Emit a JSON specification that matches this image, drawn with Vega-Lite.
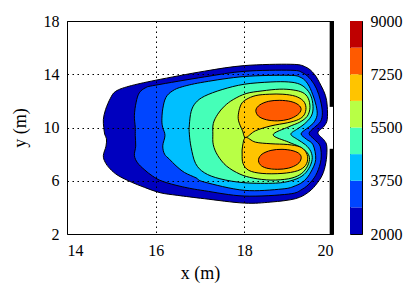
{
  "$schema": "https://vega.github.io/schema/vega-lite/v6.json",
  "background": "white",
  "padding": {"left": 10, "top": 12, "right": 5, "bottom": 5},
  "spacing": 17,
  "bounds": "flush",
  "config": {
    "view": {"stroke": "black", "strokeWidth": 1},
    "axis": {
      "labelFont": "Liberation Serif", "labelFontSize": 16, "labelColor": "black",
      "titleFont": "Liberation Serif", "titleFontSize": 18, "titleFontWeight": "normal", "titleColor": "black",
      "domain": false, "ticks": false,
      "gridColor": "black", "gridDash": [1.5, 3.5], "gridOpacity": 1, "gridWidth": 1
    }
  },
  "datasets": {
    "contours": [
      {"lev":1,"part":"a","o":1,"x":14.85,"y":9.5},{"lev":1,"part":"a","o":2,"x":14.83,"y":10.0},{"lev":1,"part":"a","o":3,"x":14.82,"y":10.6},{"lev":1,"part":"a","o":4,"x":14.87,"y":11.35},{"lev":1,"part":"a","o":5,"x":14.98,"y":12.2},{"lev":1,"part":"a","o":6,"x":15.1,"y":12.72},{"lev":1,"part":"a","o":7,"x":15.4,"y":13.1},{"lev":1,"part":"a","o":8,"x":16.0,"y":13.55},{"lev":1,"part":"a","o":9,"x":17.1,"y":14.23},{"lev":1,"part":"a","o":10,"x":18.0,"y":14.65},{"lev":1,"part":"a","o":11,"x":19.05,"y":14.75},{"lev":1,"part":"a","o":12,"x":19.38,"y":14.55},{"lev":1,"part":"a","o":13,"x":19.58,"y":14.0},{"lev":1,"part":"a","o":14,"x":19.73,"y":13.15},{"lev":1,"part":"a","o":15,"x":19.83,"y":12.4},{"lev":1,"part":"a","o":16,"x":19.87,"y":11.6},{"lev":1,"part":"a","o":17,"x":19.87,"y":10.6},{"lev":1,"part":"a","o":18,"x":19.8,"y":10.1},{"lev":1,"part":"a","o":19,"x":19.66,"y":9.6},{"lev":1,"part":"a","o":20,"x":19.8,"y":9.05},{"lev":1,"part":"a","o":21,"x":19.86,"y":8.6},{"lev":1,"part":"a","o":22,"x":19.85,"y":7.6},{"lev":1,"part":"a","o":23,"x":19.78,"y":6.6},{"lev":1,"part":"a","o":24,"x":19.65,"y":5.85},{"lev":1,"part":"a","o":25,"x":19.45,"y":5.15},{"lev":1,"part":"a","o":26,"x":19.15,"y":4.65},{"lev":1,"part":"a","o":27,"x":18.6,"y":4.4},{"lev":1,"part":"a","o":28,"x":18.0,"y":4.32},{"lev":1,"part":"a","o":29,"x":17.1,"y":4.65},{"lev":1,"part":"a","o":30,"x":16.5,"y":4.9},{"lev":1,"part":"a","o":31,"x":16.1,"y":5.1},{"lev":1,"part":"a","o":32,"x":15.75,"y":5.5},{"lev":1,"part":"a","o":33,"x":15.45,"y":5.9},{"lev":1,"part":"a","o":34,"x":15.15,"y":6.4},{"lev":1,"part":"a","o":35,"x":14.97,"y":6.9},{"lev":1,"part":"a","o":36,"x":14.86,"y":7.4},{"lev":1,"part":"a","o":37,"x":14.82,"y":7.9},{"lev":1,"part":"a","o":38,"x":14.88,"y":8.6},{"lev":1,"part":"a","o":39,"x":14.89,"y":9.15},

      {"lev":2,"part":"a","o":1,"x":15.54,"y":9.4},{"lev":2,"part":"a","o":2,"x":15.54,"y":10.0},{"lev":2,"part":"a","o":3,"x":15.52,"y":10.9},{"lev":2,"part":"a","o":4,"x":15.56,"y":11.9},{"lev":2,"part":"a","o":5,"x":15.63,"y":12.6},{"lev":2,"part":"a","o":6,"x":15.78,"y":13.0},{"lev":2,"part":"a","o":7,"x":16.0,"y":13.18},{"lev":2,"part":"a","o":8,"x":17.1,"y":13.8},{"lev":2,"part":"a","o":9,"x":18.0,"y":14.22},{"lev":2,"part":"a","o":10,"x":19.05,"y":14.3},{"lev":2,"part":"a","o":11,"x":19.32,"y":14.1},{"lev":2,"part":"a","o":12,"x":19.5,"y":13.6},{"lev":2,"part":"a","o":13,"x":19.63,"y":12.9},{"lev":2,"part":"a","o":14,"x":19.72,"y":12.0},{"lev":2,"part":"a","o":15,"x":19.76,"y":11.1},{"lev":2,"part":"a","o":16,"x":19.72,"y":10.45},{"lev":2,"part":"a","o":17,"x":19.58,"y":10.0},{"lev":2,"part":"a","o":18,"x":19.46,"y":9.55},{"lev":2,"part":"a","o":19,"x":19.58,"y":9.1},{"lev":2,"part":"a","o":20,"x":19.71,"y":8.6},{"lev":2,"part":"a","o":21,"x":19.73,"y":7.6},{"lev":2,"part":"a","o":22,"x":19.64,"y":6.6},{"lev":2,"part":"a","o":23,"x":19.5,"y":5.9},{"lev":2,"part":"a","o":24,"x":19.3,"y":5.35},{"lev":2,"part":"a","o":25,"x":19.0,"y":5.0},{"lev":2,"part":"a","o":26,"x":18.0,"y":4.85},{"lev":2,"part":"a","o":27,"x":17.1,"y":5.25},{"lev":2,"part":"a","o":28,"x":16.6,"y":5.55},{"lev":2,"part":"a","o":29,"x":16.16,"y":5.95},{"lev":2,"part":"a","o":30,"x":15.93,"y":6.35},{"lev":2,"part":"a","o":31,"x":15.74,"y":6.85},{"lev":2,"part":"a","o":32,"x":15.59,"y":7.35},{"lev":2,"part":"a","o":33,"x":15.52,"y":7.9},{"lev":2,"part":"a","o":34,"x":15.55,"y":8.6},

      {"lev":3,"part":"a","o":1,"x":16.21,"y":9.4},{"lev":3,"part":"a","o":2,"x":16.16,"y":10.0},{"lev":3,"part":"a","o":3,"x":16.14,"y":10.5},{"lev":3,"part":"a","o":4,"x":16.16,"y":11.4},{"lev":3,"part":"a","o":5,"x":16.23,"y":12.25},{"lev":3,"part":"a","o":6,"x":16.38,"y":12.75},{"lev":3,"part":"a","o":7,"x":16.61,"y":13.07},{"lev":3,"part":"a","o":8,"x":17.1,"y":13.42},{"lev":3,"part":"a","o":9,"x":18.0,"y":13.83},{"lev":3,"part":"a","o":10,"x":19.0,"y":13.92},{"lev":3,"part":"a","o":11,"x":19.28,"y":13.75},{"lev":3,"part":"a","o":12,"x":19.43,"y":13.28},{"lev":3,"part":"a","o":13,"x":19.54,"y":12.5},{"lev":3,"part":"a","o":14,"x":19.62,"y":11.65},{"lev":3,"part":"a","o":15,"x":19.64,"y":10.9},{"lev":3,"part":"a","o":16,"x":19.55,"y":10.3},{"lev":3,"part":"a","o":17,"x":19.4,"y":9.9},{"lev":3,"part":"a","o":18,"x":19.28,"y":9.52},{"lev":3,"part":"a","o":19,"x":19.4,"y":9.12},{"lev":3,"part":"a","o":20,"x":19.55,"y":8.7},{"lev":3,"part":"a","o":21,"x":19.61,"y":7.6},{"lev":3,"part":"a","o":22,"x":19.5,"y":6.65},{"lev":3,"part":"a","o":23,"x":19.35,"y":6.0},{"lev":3,"part":"a","o":24,"x":19.15,"y":5.62},{"lev":3,"part":"a","o":25,"x":18.85,"y":5.38},{"lev":3,"part":"a","o":26,"x":18.0,"y":5.28},{"lev":3,"part":"a","o":27,"x":17.1,"y":5.9},{"lev":3,"part":"a","o":28,"x":16.91,"y":6.22},{"lev":3,"part":"a","o":29,"x":16.65,"y":6.62},{"lev":3,"part":"a","o":30,"x":16.46,"y":7.12},{"lev":3,"part":"a","o":31,"x":16.31,"y":7.62},{"lev":3,"part":"a","o":32,"x":16.2,"y":8.0},{"lev":3,"part":"a","o":33,"x":16.16,"y":8.62},

      {"lev":4,"part":"a","o":1,"x":16.76,"y":9.5},{"lev":4,"part":"a","o":2,"x":16.76,"y":10.2},{"lev":4,"part":"a","o":3,"x":16.8,"y":11.2},{"lev":4,"part":"a","o":4,"x":16.9,"y":11.85},{"lev":4,"part":"a","o":5,"x":17.1,"y":12.35},{"lev":4,"part":"a","o":6,"x":17.5,"y":12.85},{"lev":4,"part":"a","o":7,"x":18.0,"y":13.25},{"lev":4,"part":"a","o":8,"x":18.6,"y":13.42},{"lev":4,"part":"a","o":9,"x":19.0,"y":13.42},{"lev":4,"part":"a","o":10,"x":19.25,"y":13.25},{"lev":4,"part":"a","o":11,"x":19.42,"y":12.82},{"lev":4,"part":"a","o":12,"x":19.52,"y":12.2},{"lev":4,"part":"a","o":13,"x":19.55,"y":11.4},{"lev":4,"part":"a","o":14,"x":19.5,"y":10.8},{"lev":4,"part":"a","o":15,"x":19.35,"y":10.25},{"lev":4,"part":"a","o":16,"x":19.2,"y":9.9},{"lev":4,"part":"a","o":17,"x":19.05,"y":9.5},{"lev":4,"part":"a","o":18,"x":19.2,"y":9.1},{"lev":4,"part":"a","o":19,"x":19.38,"y":8.7},{"lev":4,"part":"a","o":20,"x":19.5,"y":8.2},{"lev":4,"part":"a","o":21,"x":19.53,"y":7.6},{"lev":4,"part":"a","o":22,"x":19.45,"y":6.9},{"lev":4,"part":"a","o":23,"x":19.3,"y":6.35},{"lev":4,"part":"a","o":24,"x":19.05,"y":6.0},{"lev":4,"part":"a","o":25,"x":18.7,"y":5.82},{"lev":4,"part":"a","o":26,"x":18.0,"y":5.85},{"lev":4,"part":"a","o":27,"x":17.45,"y":6.15},{"lev":4,"part":"a","o":28,"x":17.1,"y":6.6},{"lev":4,"part":"a","o":29,"x":16.9,"y":7.3},{"lev":4,"part":"a","o":30,"x":16.8,"y":8.5},

      {"lev":5,"part":"a","o":1,"x":17.29,"y":9.5},{"lev":5,"part":"a","o":2,"x":17.3,"y":10.3},{"lev":5,"part":"a","o":3,"x":17.4,"y":11.0},{"lev":5,"part":"a","o":4,"x":17.55,"y":11.6},{"lev":5,"part":"a","o":5,"x":17.75,"y":12.1},{"lev":5,"part":"a","o":6,"x":18.04,"y":12.55},{"lev":5,"part":"a","o":7,"x":18.4,"y":12.75},{"lev":5,"part":"a","o":8,"x":18.8,"y":12.88},{"lev":5,"part":"a","o":9,"x":19.1,"y":12.82},{"lev":5,"part":"a","o":10,"x":19.32,"y":12.62},{"lev":5,"part":"a","o":11,"x":19.44,"y":12.2},{"lev":5,"part":"a","o":12,"x":19.48,"y":11.5},{"lev":5,"part":"a","o":13,"x":19.42,"y":10.85},{"lev":5,"part":"a","o":14,"x":19.25,"y":10.4},{"lev":5,"part":"a","o":15,"x":19.0,"y":10.05},{"lev":5,"part":"a","o":16,"x":18.65,"y":9.45},{"lev":5,"part":"a","o":17,"x":19.0,"y":8.9},{"lev":5,"part":"a","o":18,"x":19.25,"y":8.55},{"lev":5,"part":"a","o":19,"x":19.42,"y":8.1},{"lev":5,"part":"a","o":20,"x":19.47,"y":7.6},{"lev":5,"part":"a","o":21,"x":19.4,"y":6.95},{"lev":5,"part":"a","o":22,"x":19.25,"y":6.45},{"lev":5,"part":"a","o":23,"x":19.0,"y":6.15},{"lev":5,"part":"a","o":24,"x":18.6,"y":6.05},{"lev":5,"part":"a","o":25,"x":18.2,"y":6.2},{"lev":5,"part":"a","o":26,"x":17.9,"y":6.5},{"lev":5,"part":"a","o":27,"x":17.6,"y":7.1},{"lev":5,"part":"a","o":28,"x":17.4,"y":7.9},{"lev":5,"part":"a","o":29,"x":17.3,"y":8.7},

      {"lev":6,"part":"a","o":1,"x":18.03,"y":9.25},{"lev":6,"part":"a","o":2,"x":17.96,"y":9.75},{"lev":6,"part":"a","o":3,"x":17.87,"y":10.5},{"lev":6,"part":"a","o":4,"x":17.87,"y":11.1},{"lev":6,"part":"a","o":5,"x":17.93,"y":11.75},{"lev":6,"part":"a","o":6,"x":18.04,"y":12.1},{"lev":6,"part":"a","o":7,"x":18.26,"y":12.4},{"lev":6,"part":"a","o":8,"x":18.56,"y":12.5},{"lev":6,"part":"a","o":9,"x":18.87,"y":12.5},{"lev":6,"part":"a","o":10,"x":19.15,"y":12.35},{"lev":6,"part":"a","o":11,"x":19.33,"y":12.0},{"lev":6,"part":"a","o":12,"x":19.39,"y":11.5},{"lev":6,"part":"a","o":13,"x":19.35,"y":10.95},{"lev":6,"part":"a","o":14,"x":19.22,"y":10.6},{"lev":6,"part":"a","o":15,"x":18.98,"y":10.36},{"lev":6,"part":"a","o":16,"x":18.6,"y":10.12},{"lev":6,"part":"a","o":17,"x":18.25,"y":9.75},
      {"lev":6,"part":"b","o":1,"x":18.03,"y":9.25},{"lev":6,"part":"b","o":2,"x":18.25,"y":8.9},{"lev":6,"part":"b","o":3,"x":18.6,"y":8.78},{"lev":6,"part":"b","o":4,"x":18.98,"y":8.72},{"lev":6,"part":"b","o":5,"x":19.25,"y":8.55},{"lev":6,"part":"b","o":6,"x":19.38,"y":8.2},{"lev":6,"part":"b","o":7,"x":19.43,"y":7.7},{"lev":6,"part":"b","o":8,"x":19.38,"y":7.15},{"lev":6,"part":"b","o":9,"x":19.2,"y":6.75},{"lev":6,"part":"b","o":10,"x":18.85,"y":6.55},{"lev":6,"part":"b","o":11,"x":18.4,"y":6.55},{"lev":6,"part":"b","o":12,"x":18.1,"y":6.78},{"lev":6,"part":"b","o":13,"x":17.97,"y":7.3},{"lev":6,"part":"b","o":14,"x":17.95,"y":8.0},{"lev":6,"part":"b","o":15,"x":17.96,"y":8.6},

      {"lev":7,"part":"a","o":1,"x":18.26,"y":11.3},{"lev":7,"part":"a","o":2,"x":18.35,"y":11.7},{"lev":7,"part":"a","o":3,"x":18.55,"y":11.97},{"lev":7,"part":"a","o":4,"x":18.8,"y":12.04},{"lev":7,"part":"a","o":5,"x":19.05,"y":11.95},{"lev":7,"part":"a","o":6,"x":19.22,"y":11.7},{"lev":7,"part":"a","o":7,"x":19.28,"y":11.35},{"lev":7,"part":"a","o":8,"x":19.2,"y":10.95},{"lev":7,"part":"a","o":9,"x":19.0,"y":10.62},{"lev":7,"part":"a","o":10,"x":18.75,"y":10.5},{"lev":7,"part":"a","o":11,"x":18.5,"y":10.58},{"lev":7,"part":"a","o":12,"x":18.32,"y":10.85},
      {"lev":7,"part":"b","o":1,"x":18.32,"y":7.6},{"lev":7,"part":"b","o":2,"x":18.4,"y":8.0},{"lev":7,"part":"b","o":3,"x":18.6,"y":8.28},{"lev":7,"part":"b","o":4,"x":18.85,"y":8.36},{"lev":7,"part":"b","o":5,"x":19.1,"y":8.25},{"lev":7,"part":"b","o":6,"x":19.25,"y":8.0},{"lev":7,"part":"b","o":7,"x":19.28,"y":7.65},{"lev":7,"part":"b","o":8,"x":19.2,"y":7.25},{"lev":7,"part":"b","o":9,"x":19.0,"y":6.95},{"lev":7,"part":"b","o":10,"x":18.75,"y":6.86},{"lev":7,"part":"b","o":11,"x":18.5,"y":6.95},{"lev":7,"part":"b","o":12,"x":18.36,"y":7.2}
    ],
    "wall": [
      {"x": 19.97, "y": 2, "y2": 8.4},
      {"x": 19.97, "y": 11.55, "y2": 18}
    ],
    "bands": [
      {"lev":1,"lo":2000,"hi":2875},{"lev":2,"lo":2875,"hi":3750},{"lev":3,"lo":3750,"hi":4625},{"lev":4,"lo":4625,"hi":5500},
      {"lev":5,"lo":5500,"hi":6375},{"lev":6,"lo":6375,"hi":7250},{"lev":7,"lo":7250,"hi":8125},{"lev":8,"lo":8125,"hi":9000}
    ]
  },
  "hconcat": [
    {
      "width": 266,
      "height": 213,
      "data": {"name": "contours"},
      "encoding": {
        "x": {"field": "x", "type": "quantitative",
              "scale": {"domain": [14, 20], "nice": false, "zero": false},
              "axis": {"values": [14, 16, 18, 20], "title": "x (m)", "grid": true, "labelPadding": 8, "titlePadding": 6, "zindex": 1}},
        "y": {"field": "y", "type": "quantitative",
              "scale": {"domain": [2, 18], "nice": false, "zero": false},
              "axis": {"values": [2, 6, 10, 14, 18], "title": "y (m)", "grid": true, "labelPadding": 8, "titlePadding": 14, "zindex": 1}},
        "order": {"field": "o", "type": "quantitative"},
        "detail": {"field": "part", "type": "nominal"},
        "fill": {"field": "lev", "type": "ordinal",
                 "scale": {"domain": [1, 2, 3, 4, 5, 6, 7, 8], "range": ["#0000BF", "#0045FF", "#00BFFF", "#45FFB8", "#B8FF45", "#FFC400", "#FF5A00", "#BF0000"]},
                 "legend": null}
      },
      "layer": [
        {"transform": [{"filter": "datum.lev == 1"}], "mark": {"type": "line", "interpolate": "cardinal-closed", "stroke": "black", "strokeWidth": 1}},
        {"transform": [{"filter": "datum.lev == 2"}], "mark": {"type": "line", "interpolate": "cardinal-closed", "stroke": "black", "strokeWidth": 1}},
        {"transform": [{"filter": "datum.lev == 3"}], "mark": {"type": "line", "interpolate": "cardinal-closed", "stroke": "black", "strokeWidth": 1}},
        {"transform": [{"filter": "datum.lev == 4"}], "mark": {"type": "line", "interpolate": "cardinal-closed", "stroke": "black", "strokeWidth": 1}},
        {"transform": [{"filter": "datum.lev == 5"}], "mark": {"type": "line", "interpolate": "cardinal-closed", "stroke": "black", "strokeWidth": 1}},
        {"transform": [{"filter": "datum.lev == 6"}], "mark": {"type": "line", "interpolate": "cardinal-closed", "stroke": "black", "strokeWidth": 1}},
        {"transform": [{"filter": "datum.lev == 7"}], "mark": {"type": "line", "interpolate": "cardinal-closed", "stroke": "black", "strokeWidth": 1}},
        {"data": {"name": "wall"}, "mark": {"type": "rule", "color": "black", "strokeWidth": 4},
         "encoding": {"x": {"field": "x", "type": "quantitative"}, "y": {"field": "y", "type": "quantitative"}, "y2": {"field": "y2"}, "order": null, "detail": null, "fill": null}}
      ]
    },
    {
      "width": 12,
      "height": 213,
      "data": {"name": "bands"},
      "mark": {"type": "rect"},
      "encoding": {
        "x": {"datum": 0, "type": "quantitative", "scale": {"domain": [0, 1], "nice": false, "zero": false}, "axis": null},
        "x2": {"datum": 1},
        "y": {"field": "lo", "type": "quantitative",
              "scale": {"domain": [2000, 9000], "nice": false, "zero": false},
              "axis": {"orient": "right", "values": [2000, 3750, 5500, 7250, 9000], "format": "d", "title": null, "grid": false, "ticks": true, "tickSize": -4, "tickColor": "black", "labelPadding": 12}},
        "y2": {"field": "hi"},
        "fill": {"field": "lev", "type": "ordinal",
                 "scale": {"domain": [1, 2, 3, 4, 5, 6, 7, 8], "range": ["#0000BF", "#0045FF", "#00BFFF", "#45FFB8", "#B8FF45", "#FFC400", "#FF5A00", "#BF0000"]},
                 "legend": null}
      }
    }
  ]
}
